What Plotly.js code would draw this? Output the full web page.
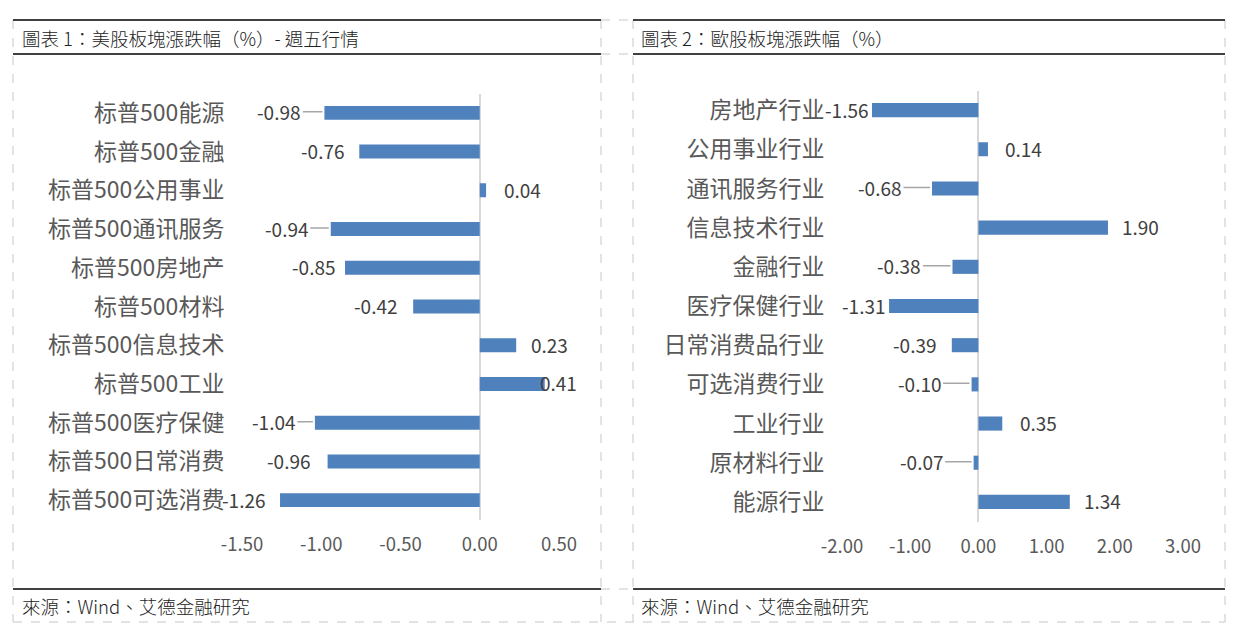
<!DOCTYPE html>
<html>
<head>
<meta charset="utf-8">
<script src="https://cdn.plot.ly/plotly-3.0.1.min.js"></script>
<style>
  html, body { margin: 0; padding: 0; background: #fff; }
  #chart { width: 1237px; height: 635px; }
</style>
</head>
<body>
<div id="chart"></div>
<script>
// 圖表 1 美股板塊
const usSectors = ['标普500能源', '标普500金融', '标普500公用事业', '标普500通讯服务', '标普500房地产',
  '标普500材料', '标普500信息技术', '标普500工业', '标普500医疗保健', '标普500日常消费', '标普500可选消费'];
const usChange = [-0.98, -0.76, 0.04, -0.94, -0.85, -0.42, 0.23, 0.41, -1.04, -0.96, -1.26];

// 圖表 2 歐股板塊
const euSectors = ['房地产行业', '公用事业行业', '通讯服务行业', '信息技术行业', '金融行业',
  '医疗保健行业', '日常消费品行业', '可选消费行业', '工业行业', '原材料行业', '能源行业'];
const euChange = [-1.56, 0.14, -0.68, 1.90, -0.38, -1.31, -0.39, -0.10, 0.35, -0.07, 1.34];

const usTicks = [-1.5, -1.0, -0.5, 0.0, 0.5];
const euTicks = [-2, -1, 0, 1, 2, 3];

const W = 1237, H = 635;
const px = (v) => v / W;
const py = (v) => 1 - v / H;

// label offsets (px) from bar end, as drawn in the source
const usShift = [45, 36, 36, 44, 31, 37, 33, 14, 41, 39, 36];
const euShift = [25, 36, 52, 33, 53, 25, 37, 52, 36, 52, 33];

const catFont = { family: 'Noto Sans CJK SC, sans-serif', size: 23, color: '#595959' };
const tickFont = { family: 'Noto Sans CJK SC, sans-serif', size: 18.5, color: '#595959' };
const lblFont = { family: 'Noto Sans CJK SC, sans-serif', size: 19, color: '#404040' };
const serif = 'Noto Sans CJK TC, serif';

function bars(cats, vals, xa, ya) {
  return {
    type: 'bar', orientation: 'h', x: vals, y: cats,
    xaxis: xa, yaxis: ya, width: 0.36,
    marker: { color: '#4f81bd' }, hoverinfo: 'skip'
  };
}

function labels(cats, vals, shifts, xa, ya) {
  return vals.map((v, i) => {
    const s = v < 0 ? -shifts[i] : shifts[i];
    const lead = shifts[i] > 40;
    return {
      x: v, y: cats[i], xref: xa, yref: ya,
      text: v.toFixed(2), font: lblFont,
      showarrow: lead, arrowhead: 0, arrowwidth: 1.5, arrowcolor: '#a6a6a6',
      ax: lead ? s : 0, ay: 0, standoff: 2,
      xshift: lead ? 0 : s, yshift: 1
    };
  });
}

function axisX(domain, range, ticks, anchor) {
  return {
    domain: domain, range: range, anchor: anchor,
    tickvals: ticks, ticktext: ticks.map((t) => t.toFixed(2)),
    tickfont: tickFont, showgrid: false, showline: false,
    zeroline: true, zerolinecolor: '#d9d9d9', zerolinewidth: 2,
    ticks: 'outside', ticklen: 8, tickcolor: 'rgba(0,0,0,0)', fixedrange: true
  };
}

function axisY(domain, cats, anchor) {
  return {
    domain: domain, anchor: anchor, type: 'category',
    categoryorder: 'array', categoryarray: cats.slice().reverse(),
    tickfont: catFont, showgrid: false, showline: false, zeroline: false,
    ticks: 'outside', ticklen: 12, tickcolor: 'rgba(0,0,0,0)', fixedrange: true
  };
}

// frame lines
const shapes = [];
function hline(y, x0, x1, dash, color, w) {
  shapes.push({ type: 'line', xref: 'paper', yref: 'paper', x0: px(x0), x1: px(x1), y0: py(y), y1: py(y),
    line: { color: color, width: w, dash: dash } });
}
function vline(x, y0, y1) {
  shapes.push({ type: 'line', xref: 'paper', yref: 'paper', x0: px(x), x1: px(x), y0: py(y0), y1: py(y1),
    line: { color: '#c8c8c8', width: 1, dash: 'dash' } });
}
[13, 601, 633, 1225].forEach((x) => vline(x, 20, 622));
hline(622, 13, 1225, 'dash', '#c8c8c8', 1);
[20, 54, 589].forEach((y) => {
  hline(y, 601, 633, 'dash', '#c8c8c8', 1);
  hline(y, 13, 601, 'solid', '#000', 1.6);
  hline(y, 633, 1225, 'solid', '#000', 1.6);
});

function textAt(x, y, t, size) {
  return { xref: 'paper', yref: 'paper', x: px(x), y: py(y), xanchor: 'left', yanchor: 'middle',
    text: t, showarrow: false, font: { family: serif, size: size, color: '#222', weight: 300 } };
}

const annotations = []
  .concat(labels(usSectors, usChange, usShift, 'x', 'y'))
  .concat(labels(euSectors, euChange, euShift, 'x2', 'y2'))
  .concat([
    textAt(20, 38, '圖表 1：美股板塊漲跌幅（%）- 週五行情', 18.5),
    textAt(639, 38, '圖表 2：歐股板塊漲跌幅（%）', 18.5),
    textAt(20, 606, '來源：Wind、艾德金融研究', 18.5),
    textAt(639, 606, '來源：Wind、艾德金融研究', 18.5)
  ]);

const layout = {
  width: W, height: H,
  margin: { l: 0, r: 0, t: 0, b: 0 },
  paper_bgcolor: '#fff', plot_bgcolor: 'rgba(0,0,0,0)',
  showlegend: false,
  xaxis: axisX([px(242), px(559)], [-1.5, 0.5], usTicks, 'y'),
  yaxis: axisY([py(519.5), py(93.5)], usSectors, 'x'),
  xaxis2: axisX([px(842), px(1183)], [-2, 3], euTicks, 'y2'),
  yaxis2: axisY([py(521.5), py(90.5)], euSectors, 'x2'),
  shapes: shapes,
  annotations: annotations
};

Plotly.newPlot('chart', [
  bars(usSectors, usChange, 'x', 'y'),
  bars(euSectors, euChange, 'x2', 'y2')
], layout, { displayModeBar: false, staticPlot: true });
</script>
</body>
</html>
